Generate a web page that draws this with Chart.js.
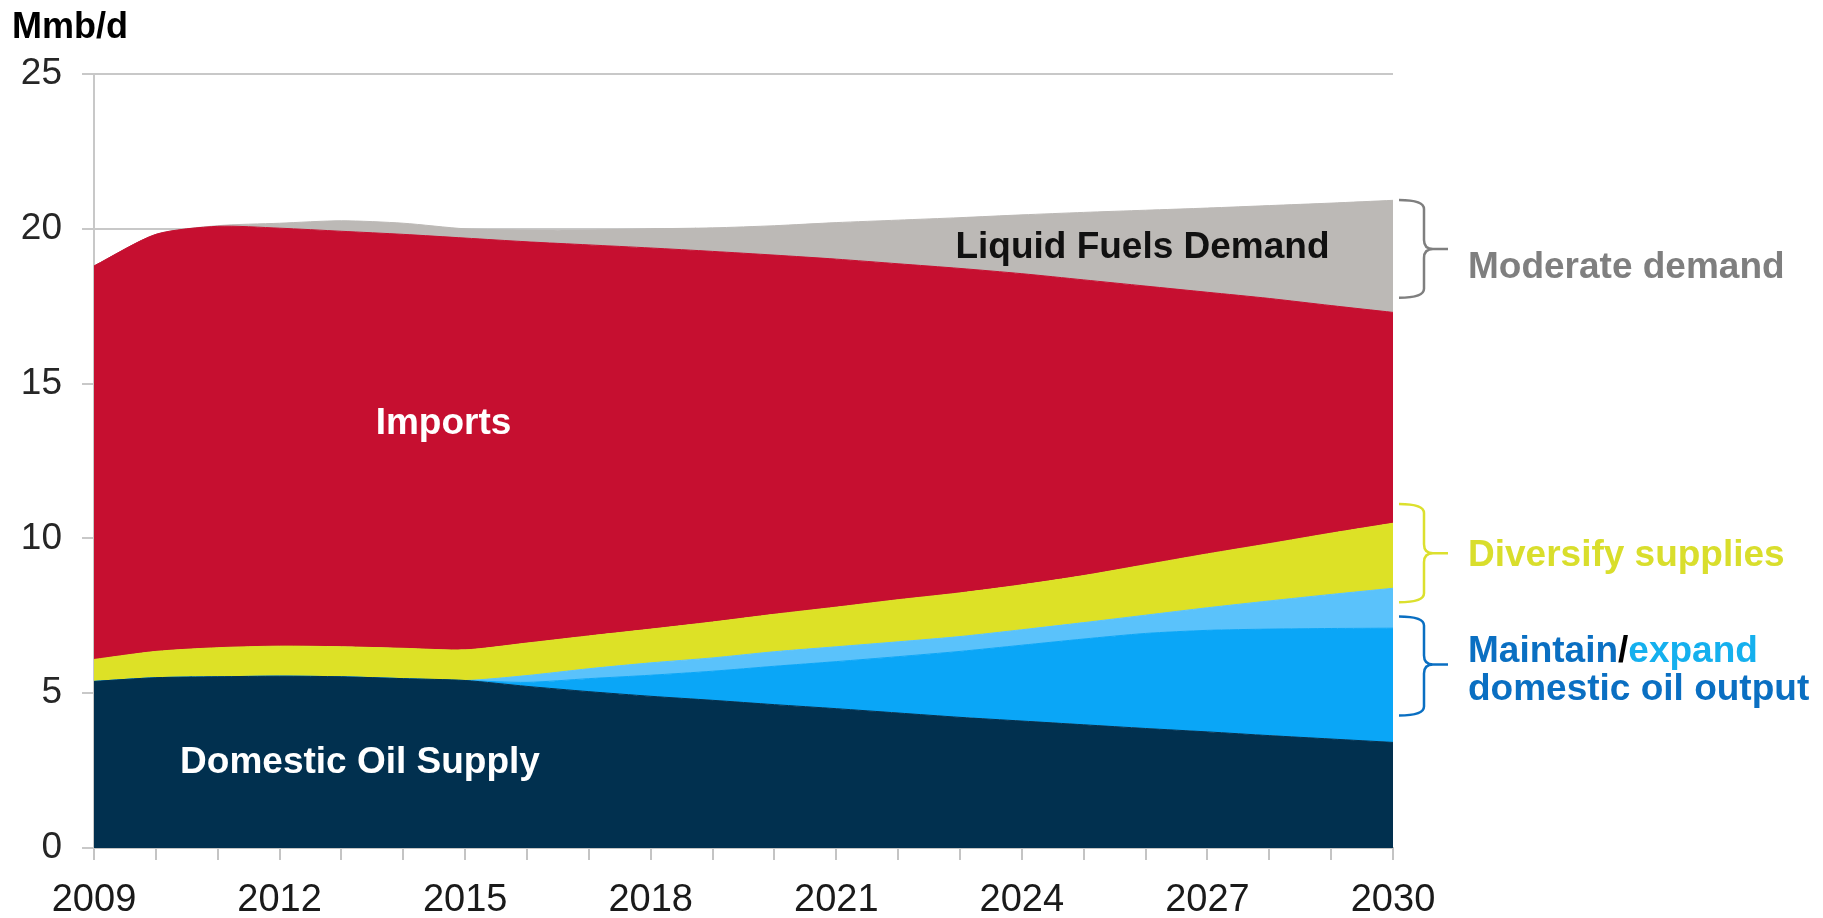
<!DOCTYPE html>
<html>
<head>
<meta charset="utf-8">
<title>Liquid fuels outlook</title>
<script src="https://cdn.jsdelivr.net/npm/chart.js@4.4.1/dist/chart.umd.min.js"></script>
<style>
  html, body { margin: 0; padding: 0; background: #ffffff; }
  #wrap { width: 1823px; height: 918px; }
</style>
</head>
<body>
<div id="wrap"><canvas id="oilChart" width="1823" height="918"></canvas></div>
<script>
  'use strict';

  // years on the x axis
  var years = [2009, 2010, 2011, 2012, 2013, 2014, 2015, 2016, 2017, 2018, 2019,
    2020, 2021, 2022, 2023, 2024, 2025, 2026, 2027, 2028, 2029, 2030];

  // layers, Mmb/d, stacked bottom to top
  var domesticSupply = [5.38, 5.50, 5.53, 5.55, 5.53, 5.47, 5.41, 5.22, 5.05, 4.90, 4.77,
    4.63, 4.50, 4.36, 4.22, 4.10, 3.98, 3.86, 3.75, 3.63, 3.52, 3.41];
  var maintainOutput = [0, 0, 0, 0, 0, 0, 0, 0.13, 0.42, 0.68, 0.94,
    1.24, 1.52, 1.82, 2.13, 2.45, 2.77, 3.07, 3.28, 3.44, 3.57, 3.69];
  var expandOutput = [0, 0, 0, 0, 0, 0, 0, 0.22, 0.32, 0.40, 0.43,
    0.47, 0.48, 0.48, 0.48, 0.50, 0.53, 0.59, 0.73, 0.91, 1.10, 1.29];
  var diversifySupplies = [0.71, 0.85, 0.94, 0.97, 0.97, 0.98, 0.99, 1.05, 1.06, 1.09, 1.16,
    1.21, 1.28, 1.36, 1.41, 1.45, 1.52, 1.63, 1.74, 1.85, 1.98, 2.10];
  var imports = [12.71, 13.47, 13.61, 13.50, 13.42, 13.37, 13.30, 12.96, 12.63, 12.31, 11.97,
    11.60, 11.24, 10.85, 10.48, 10.05, 9.55, 9.00, 8.45, 7.92, 7.35, 6.81];
  var moderatedDemand = [0, 0, 0.02, 0.16, 0.34, 0.36, 0.30, 0.38, 0.48, 0.62, 0.76,
    0.95, 1.18, 1.41, 1.64, 1.90, 2.18, 2.45, 2.72, 3.00, 3.31, 3.62];

  var yTicks = [0, 5, 10, 15, 20, 25];
  var xLabelYears = [2009, 2012, 2015, 2018, 2021, 2024, 2027, 2030];

  var FONT = "'Liberation Sans', Arial, Helvetica, sans-serif";

  function layer(label, data, color, fill) {
    return {
      label: label,
      data: data,
      backgroundColor: color,
      borderColor: color,
      borderWidth: 1,
      pointRadius: 0,
      pointHoverRadius: 0,
      tension: 0.25,
      fill: fill
    };
  }

  // curly bracket opening to the left, tip pointing right
  function drawBrace(ctx, x0, xm, xt, yTop, yBot, yTip, color) {
    var r = 9;
    ctx.save();
    ctx.strokeStyle = color;
    ctx.lineWidth = 2.5;
    ctx.beginPath();
    ctx.moveTo(x0, yTop);
    ctx.quadraticCurveTo(xm, yTop, xm, yTop + r);
    ctx.lineTo(xm, yTip - r);
    ctx.quadraticCurveTo(xm, yTip, xm + r, yTip);
    ctx.lineTo(xt, yTip);
    ctx.moveTo(xm + r, yTip);
    ctx.quadraticCurveTo(xm, yTip, xm, yTip + r);
    ctx.lineTo(xm, yBot - r);
    ctx.quadraticCurveTo(xm, yBot, x0, yBot);
    ctx.stroke();
    ctx.restore();
  }

  // text over the areas, side notes and brackets
  var notesPlugin = {
    id: 'notes',
    afterDatasetsDraw: function (chart) {
      var ctx = chart.ctx;
      var x = chart.scales.x;
      var y = chart.scales.y;
      ctx.save();
      ctx.textBaseline = 'middle';
      ctx.textAlign = 'center';
      ctx.font = 'bold 37px ' + FONT;
      ctx.fillStyle = '#ffffff';
      ctx.fillText('Imports', x.getPixelForValue(2014.65), y.getPixelForValue(13.7));
      ctx.fillText('Domestic Oil Supply', x.getPixelForValue(2013.3), y.getPixelForValue(2.75));
      ctx.fillStyle = '#111111';
      ctx.fillText('Liquid Fuels Demand', x.getPixelForValue(2025.95), y.getPixelForValue(19.4));
      ctx.restore();
    },
    afterDraw: function (chart) {
      var ctx = chart.ctx;
      var y = chart.scales.y;
      var right = chart.chartArea.right;
      var x0 = right + 6;
      var xm = right + 31;
      var xt = right + 55;
      var tx = right + 75;

      ctx.save();
      ctx.textAlign = 'left';
      ctx.textBaseline = 'alphabetic';
      ctx.font = 'bold 36px ' + FONT;
      ctx.fillStyle = '#000000';
      ctx.fillText('Mmb/d', 12, 38);

      drawBrace(ctx, x0, xm, xt, y.getPixelForValue(20.93), y.getPixelForValue(17.77), y.getPixelForValue(19.35), '#7f7f7f');
      drawBrace(ctx, x0, xm, xt, y.getPixelForValue(11.11), y.getPixelForValue(7.94), y.getPixelForValue(9.52), '#dce02e');
      drawBrace(ctx, x0, xm, xt, y.getPixelForValue(7.48), y.getPixelForValue(4.28), y.getPixelForValue(5.93), '#0a6fc2');

      ctx.font = 'bold 37px ' + FONT;
      ctx.fillStyle = '#7f7f7f';
      ctx.fillText('Moderate demand', tx, 278);
      ctx.fillStyle = '#d9de2c';
      ctx.fillText('Diversify supplies', tx, 566);

      var px = tx;
      ctx.fillStyle = '#0a6fc2';
      ctx.fillText('Maintain', px, 662);
      px += ctx.measureText('Maintain').width;
      ctx.fillStyle = '#000000';
      ctx.fillText('/', px, 662);
      px += ctx.measureText('/').width;
      ctx.fillStyle = '#15b0ee';
      ctx.fillText('expand', px, 662);
      ctx.fillStyle = '#0a6fc2';
      ctx.fillText('domestic oil output', tx, 700);
      ctx.restore();
    }
  };

  var ctx = document.getElementById('oilChart').getContext('2d');
  var oilChart = new Chart(ctx, {
    type: 'line',
    data: {
      labels: years,
      datasets: [
        layer('Domestic Oil Supply', domesticSupply, '#01304f', 'origin'),
        layer('Maintain domestic output', maintainOutput, '#0aa6f7', '-1'),
        layer('Expand domestic output', expandOutput, '#5ac2fb', '-1'),
        layer('Diversify supplies', diversifySupplies, '#dde126', '-1'),
        layer('Imports', imports, '#c60f30', '-1'),
        layer('Moderate demand', moderatedDemand, '#bcb9b6', '-1')
      ]
    },
    options: {
      responsive: false,
      animation: false,
      devicePixelRatio: 1,
      layout: {
        padding: { top: 74, right: 430, bottom: 0, left: 0 }
      },
      plugins: {
        legend: { display: false },
        tooltip: { enabled: false },
        filler: { propagate: false }
      },
      scales: {
        x: {
          type: 'linear',
          min: 2009,
          max: 2030,
          afterFit: function (scale) { scale.height = 70; },
          afterBuildTicks: function (scale) {
            scale.ticks = years.map(function (v) { return { value: v }; });
          },
          border: { display: true, color: '#c4c4c4', width: 2 },
          grid: {
            drawOnChartArea: false,
            drawTicks: true,
            tickLength: 12,
            color: '#c4c4c4',
            lineWidth: 2
          },
          ticks: {
            autoSkip: false,
            maxRotation: 0,
            padding: 18,
            color: '#1a1a1a',
            font: { family: FONT, size: 38 },
            callback: function (v) {
              return xLabelYears.indexOf(v) >= 0 ? String(v) : '';
            }
          }
        },
        y: {
          stacked: true,
          min: 0,
          max: 25,
          afterFit: function (scale) { scale.width = 94; },
          afterBuildTicks: function (scale) {
            scale.ticks = yTicks.map(function (v) { return { value: v }; });
          },
          border: { display: true, color: '#c8c8c8', width: 2 },
          grid: {
            drawTicks: true,
            tickLength: 12,
            color: '#c8c8c8',
            lineWidth: 2
          },
          ticks: {
            padding: 20,
            color: '#262626',
            font: { family: FONT, size: 37 }
          }
        }
      }
    },
    plugins: [notesPlugin]
  });
</script>
</body>
</html>
